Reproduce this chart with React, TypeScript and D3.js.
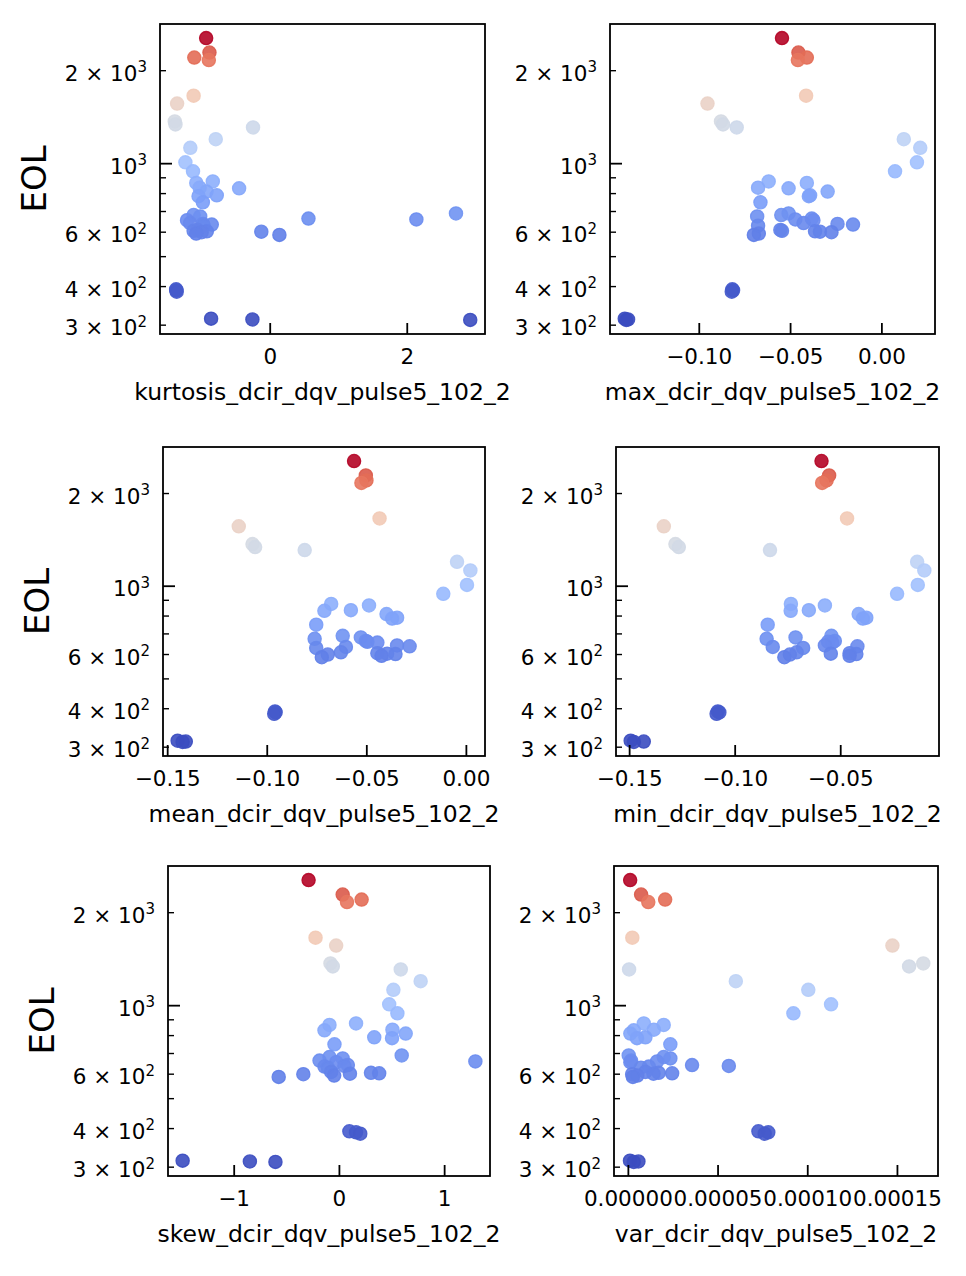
import * as d3 from "d3";

// end of life (cycles) for every cell, same order in every feature list
const eol = [
  2550, 2290, 2205, 2165, 1660, 1565, 1370, 1340, 1310, 1200, 1125, 1010, 945,
  876, 866, 836, 832, 812, 790, 785, 750,
  690, 682, 675, 664, 660, 656, 642, 638, 635, 630, 610, 606, 604, 602, 600, 594, 588,
  392, 389, 385, 315, 313, 312,
];

const kurtosisDqv = [
  -0.935, -0.887, -1.108, -0.896, -1.118, -1.359, -1.393, -1.383, -0.251, -0.795, -1.166, -1.238, -1.127,
  -0.838, -1.079, -1.03, -0.454, -0.93, -0.78, -1.046, -0.983,
  2.711, -1.118, -1.022, 0.558, 2.133, -1.214, -1.17, -0.98, -0.853, -0.974, -1.06, -1.118, -0.925, -0.13, -1.0, -1.08, 0.134,
  -1.373, -1.37, -1.365, -0.863, -0.26, 2.919,
];

const maxDqv = [
  -0.0547, -0.0457, -0.0411, -0.046, -0.0415, -0.0955, -0.0881, -0.087, -0.0795, 0.012, 0.021, 0.0192, 0.0072,
  -0.062, -0.0411, -0.0678, -0.0511, -0.0297, -0.0393, -0.04, -0.0665,
  -0.0511, -0.0551, -0.0683, -0.0384, -0.0474, -0.0375, -0.0429, -0.0243, -0.0158, -0.0678, -0.0556, -0.0547, -0.0366, -0.0339, -0.0276, -0.0674, -0.0701,
  -0.0819, -0.0815, -0.0822, -0.1408, -0.139, -0.14,
];

const meanDqv = [
  -0.0564, -0.0505, -0.0502, -0.0527, -0.0436, -0.1143, -0.1074, -0.1061, -0.0812, -0.0047, 0.002, 0.0003, -0.0116,
  -0.0679, -0.0489, -0.058, -0.0713, -0.0401, -0.0348, -0.0373, -0.0754,
  -0.0621, -0.053, -0.0762, -0.0505, -0.0497, -0.0447, -0.0348, -0.0285, -0.0605, -0.0754, -0.063, -0.0447, -0.0398, -0.0356, -0.0696, -0.0426, -0.0726,
  -0.0961, -0.0958, -0.0965, -0.145, -0.1409, -0.1425,
];

const minDqv = [
  -0.0591, -0.0555, -0.0567, -0.0588, -0.047, -0.1338, -0.1283, -0.1267, -0.0835, -0.0138, -0.0104, -0.0135, -0.0233,
  -0.0736, -0.0575, -0.0651, -0.0737, -0.0415, -0.0379, -0.0395, -0.0846,
  -0.0544, -0.0714, -0.0851, -0.0528, -0.056, -0.054, -0.0575, -0.0421, -0.0822, -0.0678, -0.0709, -0.0458, -0.0547, -0.0426, -0.0741, -0.0458, -0.0767,
  -0.1082, -0.1075, -0.1088, -0.1495, -0.1433, -0.148,
];

const skewDqv = [
  -0.293, 0.031, 0.211, 0.072, -0.227, -0.031, -0.085, -0.063, 0.583, 0.772, 0.513, 0.473, 0.551,
  0.158, -0.0945, 0.504, -0.142, 0.63, 0.331, 0.5, -0.047,
  0.592, -0.0945, 0.031, -0.189, 1.292, -0.03, 0.08, 0.047, -0.142, -0.11, -0.0784, 0.3, 0.378, 0.1, -0.343, -0.05, -0.577,
  0.0945, 0.158, 0.198, -1.49, -0.851, -0.608,
];

const varDqv = [
  1e-6, 7.1e-6, 2.05e-5, 1.11e-5, 2.2e-6, 1.472e-4, 1.644e-4, 1.565e-4, 4e-7, 5.99e-5, 1.003e-4, 1.13e-4, 9.2e-5,
  8.6e-6, 1.97e-5, 1.42e-5, 3e-6, 1.1e-6, 9.5e-6, 4.8e-6, 2.34e-5,
  2e-7, 1.97e-5, 2.34e-5, 1.5e-6, 1.6e-5, 1.1e-6, 3.55e-5, 5.6e-5, 1.14e-5, 7e-6, 9.5e-6, 1.69e-5, 2.44e-5, 1.4e-5, 2.1e-6, 5e-6, 2.5e-6,
  7.25e-5, 7.8e-5, 7.6e-5, 9e-7, 5.6e-6, 3e-6,
];

// tick positions
const kurtosisTicks = [0, 2];
const maxTicks = [-0.1, -0.05, 0];
const meanTicks = [-0.15, -0.1, -0.05, 0];
const minTicks = [-0.15, -0.1, -0.05];
const skewTicks = [-1, 0, 1];
const varTicks = [0, 0.00005, 0.0001, 0.00015];

const yMajorTicks = [1000];
const yMinorTicks = [300, 400, 500, 600, 700, 800, 900, 2000];
const yLabelTicks = [300, 400, 600, 1000, 2000];

// matplotlib coolwarm, sampled at 0, 0.1, ... 1
const coolwarm = [
  "#3b4cc0", "#5977e3", "#7b9ff9", "#9ebeff", "#c0d4f5", "#dddcdc",
  "#f2cbb7", "#f7ac8e", "#ee8468", "#d65244", "#b40426",
];

const FONT = "'DejaVu Sans', sans-serif";

const panels = [
  { label: "kurtosis_dcir_dqv_pulse5_102_2", values: kurtosisDqv, ticks: kurtosisTicks, fmt: d3.format("d"), box: [160, 24, 485, 334], left: true },
  { label: "max_dcir_dqv_pulse5_102_2", values: maxDqv, ticks: maxTicks, fmt: d3.format(".2f"), box: [610, 24, 935, 334], left: false },
  { label: "mean_dcir_dqv_pulse5_102_2", values: meanDqv, ticks: meanTicks, fmt: d3.format(".2f"), box: [163, 447, 485, 756], left: true },
  { label: "min_dcir_dqv_pulse5_102_2", values: minDqv, ticks: minTicks, fmt: d3.format(".2f"), box: [616, 447, 939, 756], left: false },
  { label: "skew_dcir_dqv_pulse5_102_2", values: skewDqv, ticks: skewTicks, fmt: d3.format("d"), box: [168, 866, 490, 1176], left: true },
  { label: "var_dcir_dqv_pulse5_102_2", values: varDqv, ticks: varTicks, fmt: d3.format(".5f"), box: [614, 866, 938, 1176], left: false },
];

function YTickLabel({ v, x, y }: { v: number; x: number; y: number }) {
  const exp = Math.floor(Math.log10(v) + 1e-9);
  const mant = Math.round(v / Math.pow(10, exp));
  return (
    <text x={x} y={y} textAnchor="end" fontSize={21.5} fontFamily={FONT} fill="#000">
      {mant === 1 ? "10" : `${mant} \u00d7 10`}
      <tspan dy={-8.5} fontSize={15}>
        {exp}
      </tspan>
    </text>
  );
}

function Panel({ p, color }: { p: (typeof panels)[number]; color: (v: number) => string }) {
  const [x0, y0, x1, y1] = p.box;

  const [xlo, xhi] = d3.extent(p.values) as [number, number];
  const xpad = (xhi - xlo) * 0.05;
  const x = d3.scaleLinear().domain([xlo - xpad, xhi + xpad]).range([x0, x1]);

  const [elo, ehi] = d3.extent(eol) as [number, number];
  const lpad = (Math.log10(ehi) - Math.log10(elo)) * 0.05;
  const y = d3
    .scaleLog()
    .domain([elo / Math.pow(10, lpad), ehi * Math.pow(10, lpad)])
    .range([y1, y0]);

  const [dlo, dhi] = x.domain();
  const xt = p.ticks.filter((t) => t >= dlo && t <= dhi);

  return (
    <g>
      {p.values.map((v, i) => (
        <circle
          key={i}
          cx={x(v)}
          cy={y(eol[i])}
          r={6.6}
          fill={color(eol[i])}
          fillOpacity={0.9}
          stroke={color(eol[i])}
          strokeOpacity={0.9}
          strokeWidth={1.3}
        />
      ))}

      {xt.map((t) => (
        <g key={t}>
          <line x1={x(t)} x2={x(t)} y1={y1} y2={y1 - 11} stroke="#000" strokeWidth={1.8} />
          <text x={x(t)} y={y1 + 30} textAnchor="middle" fontSize={21.5} fontFamily={FONT}>
            {p.fmt(t)}
          </text>
        </g>
      ))}

      {yMajorTicks.map((t) => (
        <line key={t} x1={x0} x2={x0 + 12} y1={y(t)} y2={y(t)} stroke="#000" strokeWidth={1.8} />
      ))}
      {yMinorTicks.map((t) => (
        <line key={t} x1={x0} x2={x0 + 6} y1={y(t)} y2={y(t)} stroke="#000" strokeWidth={1.4} />
      ))}
      {yLabelTicks.map((t) => (
        <YTickLabel key={t} v={t} x={x0 - 13} y={y(t) + 10} />
      ))}

      <rect x={x0} y={y0} width={x1 - x0} height={y1 - y0} fill="none" stroke="#000" strokeWidth={1.8} />

      <text x={(x0 + x1) / 2} y={y1 + 66} textAnchor="middle" fontSize={23.5} fontFamily={FONT}>
        {p.label}
      </text>

      {p.left && (
        <text
          transform={`translate(${x0 - 114},${(y0 + y1) / 2}) rotate(-90)`}
          textAnchor="middle"
          fontSize={34}
          fontFamily={FONT}
        >
          EOL
        </text>
      )}
    </g>
  );
}

export default function App() {
  const [lo, hi] = d3.extent(eol) as [number, number];
  const color = d3
    .scaleLinear<string>()
    .domain(coolwarm.map((_, i) => lo + ((hi - lo) * i) / (coolwarm.length - 1)))
    .range(coolwarm)
    .interpolate(d3.interpolateRgb)
    .clamp(true);

  return (
    <svg
      width={966}
      height={1276}
      style={{ position: "absolute", left: 0, top: 0, background: "#fff" }}
    >
      <rect width={966} height={1276} fill="#fff" />
      {panels.map((p) => (
        <Panel key={p.label} p={p} color={color} />
      ))}
    </svg>
  );
}
